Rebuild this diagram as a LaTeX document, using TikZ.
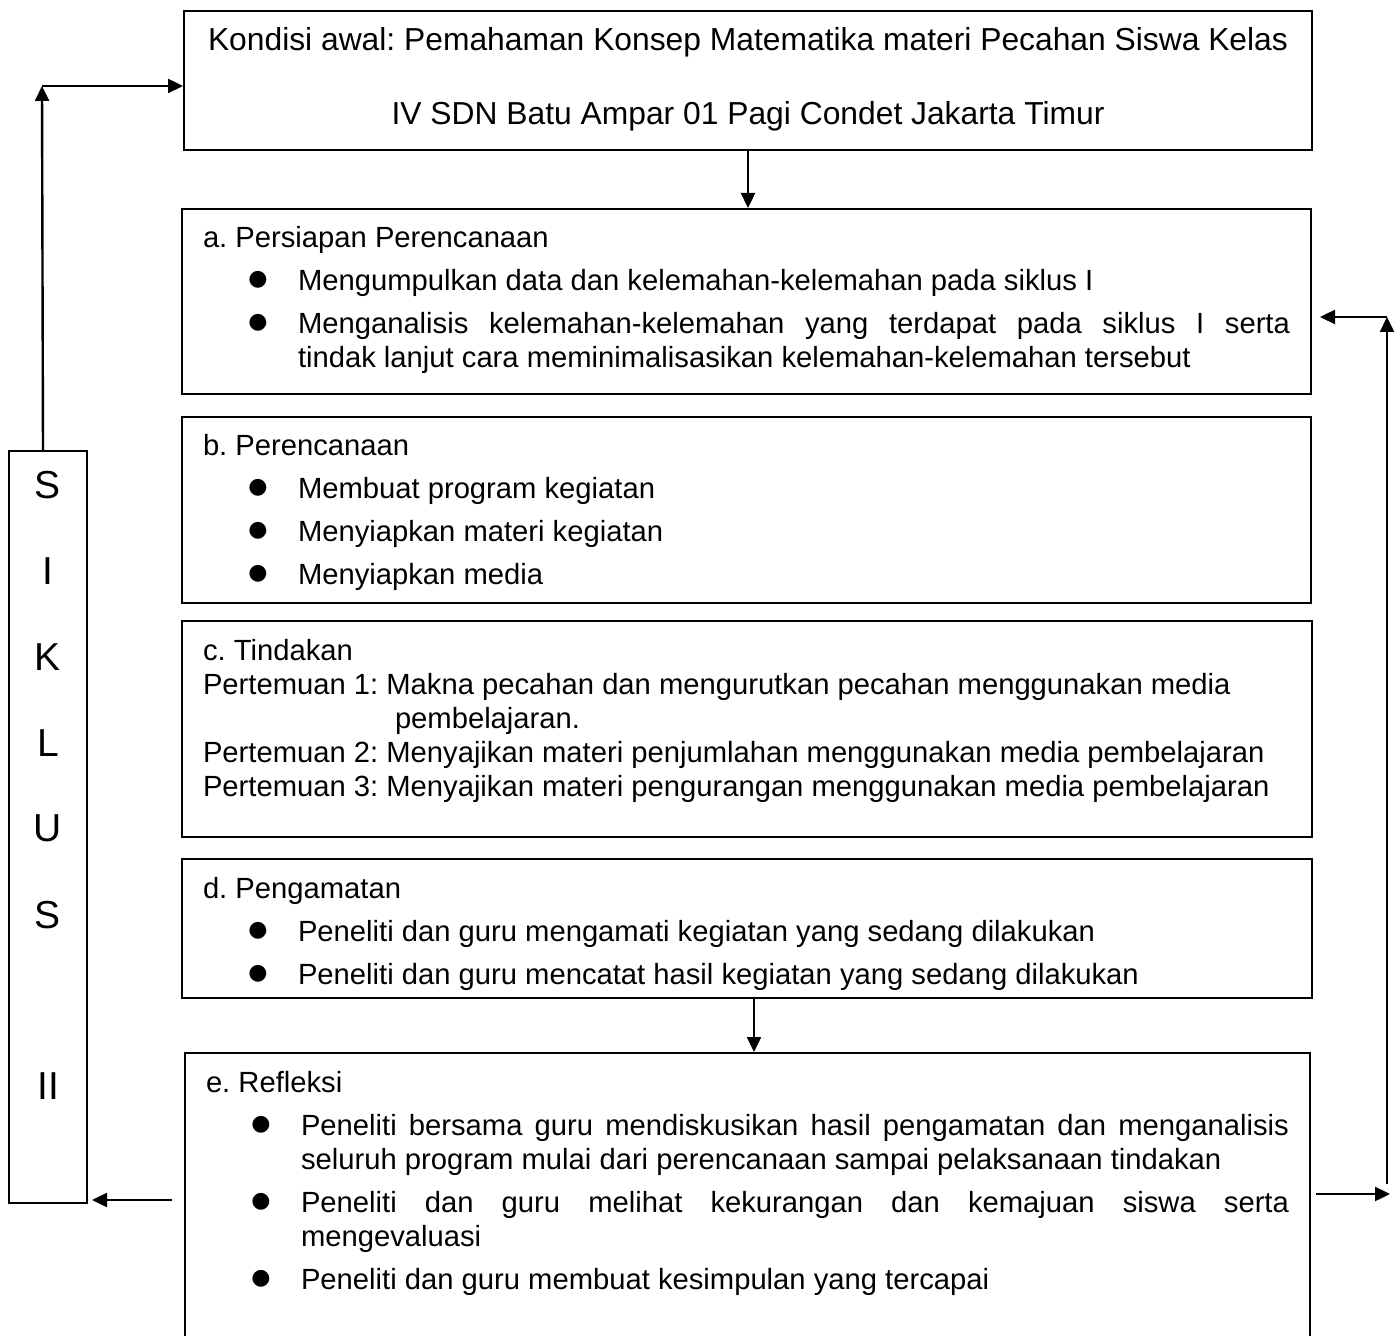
\documentclass[tikz,border=0pt]{standalone}
\usepackage{fontspec}
\setmainfont{Liberation Sans}
\newfontfamily\simbol{DejaVu Sans}
\usetikzlibrary{arrows.meta}
\frenchspacing

\tikzset{
  kotak/.style={draw, line width=1pt, anchor=north west, inner sep=0pt},
  panah/.style={line width=1.2pt, -{Triangle[length=7.5pt,width=7pt]}}
}
\newcommand\judul[1]{\noindent\rule{0pt}{19.5pt}#1}
\newcommand\butir[1]{\par\vspace{4.5pt}\hangindent=47.5pt\hangafter=0\noindent
  \llap{\makebox[0pt][c]{\raisebox{2.5pt}{\simbol\fontsize{11}{11}\selectfont ●}}\hspace{20pt}}#1}
\newcommand\isi[3]{\parbox[c][#2][t]{#1}{\fontsize{14.6}{17}\selectfont\hspace*{10.5pt}\parbox[t]{\dimexpr#1-21pt}{#3}}}

\begin{document}
\begin{tikzpicture}[x=0.5pt,y=-0.5pt]
  \useasboundingbox (0,0) rectangle (1398,1336);
  \node[kotak] (awal) at (183,10) {\parbox[c][69.5pt][t]{564pt}{\centering\fontsize{15.9}{37}\selectfont
    \rule{0pt}{20pt}Kondisi awal: Pemahaman Konsep Matematika materi Pecahan Siswa Kelas\\
    IV SDN Batu Ampar 01 Pagi Condet Jakarta Timur}};
  \node[kotak] (a) at (181,208) {\isi{564.5pt}{92.5pt}{%
    \judul{a. Persiapan Perencanaan}
    \butir{Mengumpulkan data dan kelemahan-kelemahan pada siklus I}
    \butir{Menganalisis kelemahan-kelemahan yang terdapat pada siklus I serta\linebreak
      tindak lanjut cara meminimalisasikan kelemahan-kelemahan tersebut}}};
  \node[kotak] (b) at (181,416) {\isi{564.5pt}{93pt}{%
    \judul{b. Perencanaan}
    \butir{Membuat program kegiatan}
    \butir{Menyiapkan materi kegiatan}
    \butir{Menyiapkan media}}};
  \node[kotak] (c) at (181,620) {\isi{565pt}{108pt}{%
    \judul{c. Tindakan}\par
    \noindent Pertemuan 1: Makna pecahan dan mengurutkan pecahan menggunakan media\par
    \noindent\hspace*{96pt}pembelajaran.\par
    \noindent Pertemuan 2: Menyajikan materi penjumlahan menggunakan media pembelajaran\par
    \noindent Pertemuan 3: Menyajikan materi pengurangan menggunakan media pembelajaran}};
  \node[kotak] (d) at (181,858) {\isi{565pt}{69.5pt}{%
    \judul{d. Pengamatan}
    \butir{Peneliti dan guru mengamati kegiatan yang sedang dilakukan}
    \butir{Peneliti dan guru mencatat hasil kegiatan yang sedang dilakukan}}};
  \node[kotak] (e) at (184,1052) {\isi{562.5pt}{150pt}{%
    \judul{e. Refleksi}
    \butir{Peneliti bersama guru mendiskusikan hasil pengamatan dan menganalisis\linebreak
      seluruh program mulai dari perencanaan sampai pelaksanaan tindakan}
    \butir{Peneliti dan guru melihat kekurangan dan kemajuan siswa serta\linebreak
      mengevaluasi}
    \butir{Peneliti dan guru membuat kesimpulan yang tercapai}}};
  \node[kotak] (siklus) at (8,450) {\parbox[c][376pt][t]{39pt}{\centering\fontsize{19.5}{43}\selectfont
    \rule{0pt}{23.5pt}S\\I\\K\\L\\U\\S\\\mbox{}\\II}};

  \coordinate (kiriE) at (172,1200);
  \coordinate (belokKiri) at (42,86);
  \coordinate (kananE) at (1316,1194);
  \coordinate (ujungE) at (1390,1194);
  \coordinate (bawahKanan) at (1387,1184);
  \coordinate (belokKanan) at (1387,317);

  \draw[panah] (awal.south) -- (awal.south |- a.north);
  \draw[panah] ([xshift=3.5pt]d.south) -- ([xshift=3.5pt]d.south |- e.north);
  \draw[panah, shorten >=2pt] (kiriE) -- (kiriE -| siklus.east);
  \draw[panah] ([xshift=-2.5pt]siklus.north) -- (belokKiri);
  \draw[panah] (belokKiri) -- (belokKiri -| awal.west);
  \draw[panah] (kananE) -- (ujungE);
  \draw[panah] (bawahKanan) -- (belokKanan);
  \draw[panah, shorten >=4pt] (belokKanan) -- (belokKanan -| a.east);
\end{tikzpicture}
\end{document}
